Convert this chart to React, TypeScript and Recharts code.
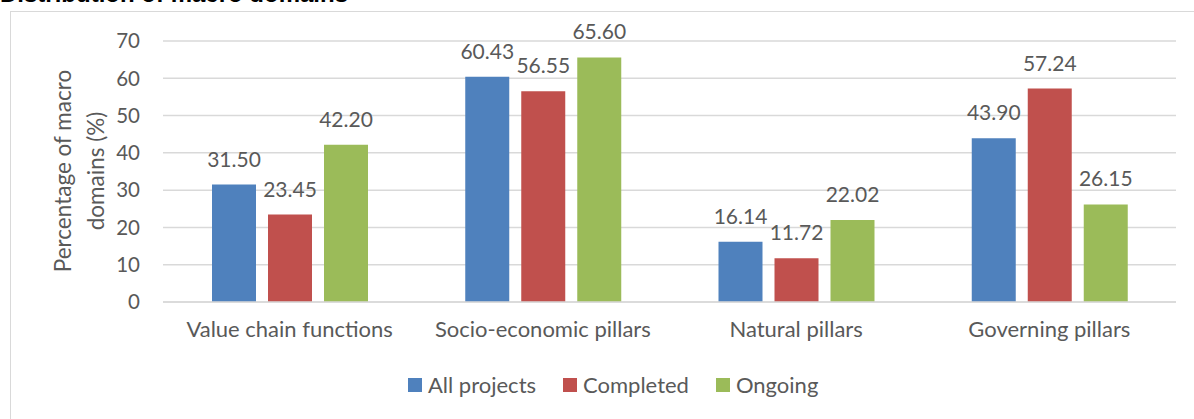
import React from "react";
import { BarChart, Bar, XAxis, YAxis, CartesianGrid, LabelList } from "recharts";

const categories = ["Value chain functions", "Socio-economic pillars", "Natural pillars", "Governing pillars"];
const allProjects = [31.5, 60.43, 16.14, 43.9];
const completed = [23.45, 56.55, 11.72, 57.24];
const ongoing = [42.2, 65.6, 22.02, 26.15];
const yTicks = [0, 10, 20, 30, 40, 50, 60, 70];

const series = [
  { key: "all", name: "All projects", color: "#4F81BD" },
  { key: "completed", name: "Completed", color: "#C0504D" },
  { key: "ongoing", name: "Ongoing", color: "#9BBB59" },
];

const data = categories.map((c, i) => ({
  name: c,
  all: allProjects[i],
  completed: completed[i],
  ongoing: ongoing[i],
}));

const FONT = "Lato, 'Open Sans', sans-serif";
const TEXT = "#595959";

export default function App() {
  return (
    <div style={{ position: "absolute", left: 0, top: 0, width: 1194, height: 419, overflow: "hidden", background: "#fff" }}>
      <div style={{ position: "absolute", left: 0, top: -19, lineHeight: "25px", fontFamily: "'Liberation Sans', Arial, sans-serif", fontWeight: "bold", fontSize: 24, color: "#000", whiteSpace: "nowrap" }}>
        Distribution of macro domains
      </div>
      <div style={{ position: "absolute", left: 10, top: 11, width: 1200, height: 420, border: "1px solid #d9d9d9", boxSizing: "border-box" }} />
      <div style={{ position: "absolute", left: 0, top: 0 }}>
        <BarChart width={1194} height={419} data={data} margin={{ top: 41, right: 18, bottom: 87, left: 0 }} barSize={44} barGap={12}>
          <CartesianGrid vertical={false} stroke="#d9d9d9" strokeWidth={1.5} />
          <XAxis dataKey="name" height={30} tickLine={false} axisLine={{ stroke: "#d9d9d9", strokeWidth: 1.5 }} tickMargin={13} tick={{ fill: TEXT, fontSize: 22, fontFamily: FONT }} />
          <YAxis width={163} domain={[0, 70]} ticks={yTicks} tickLine={false} axisLine={false} tickMargin={17} tick={{ fill: TEXT, fontSize: 20.5, fontFamily: FONT }} />
          {series.map((s) => (
            <Bar key={s.key} dataKey={s.key} name={s.name} fill={s.color} isAnimationActive={false}>
              <LabelList dataKey={s.key} position="top" offset={18} fill={TEXT} fontSize={21} fontFamily={FONT} formatter={(v: any) => Number(v).toFixed(2)} />
            </Bar>
          ))}
        </BarChart>
        <svg width={120} height={260} style={{ position: "absolute", left: 0, top: 41 }}>
          <text transform="translate(62,130) rotate(-90)" fill={TEXT} fontSize={22.5} fontFamily={FONT} textAnchor="middle" dominantBaseline="central">Percentage of macro</text>
          <text transform="translate(95,130) rotate(-90)" fill={TEXT} fontSize={22.5} fontFamily={FONT} textAnchor="middle" dominantBaseline="central">domains (%)</text>
        </svg>
      </div>
      <div style={{ position: "absolute", left: 408, top: 371, display: "flex", alignItems: "center", fontFamily: FONT, fontSize: 22, color: TEXT, whiteSpace: "nowrap" }}>
        {series.map((s, i) => (
          <div key={s.key} style={{ display: "flex", alignItems: "center", marginRight: i < series.length - 1 ? 27 : 0 }}>
            <span style={{ display: "inline-block", width: 14, height: 14, background: s.color, marginRight: 6 }} />
            <span>{s.name}</span>
          </div>
        ))}
      </div>
    </div>
  );
}
